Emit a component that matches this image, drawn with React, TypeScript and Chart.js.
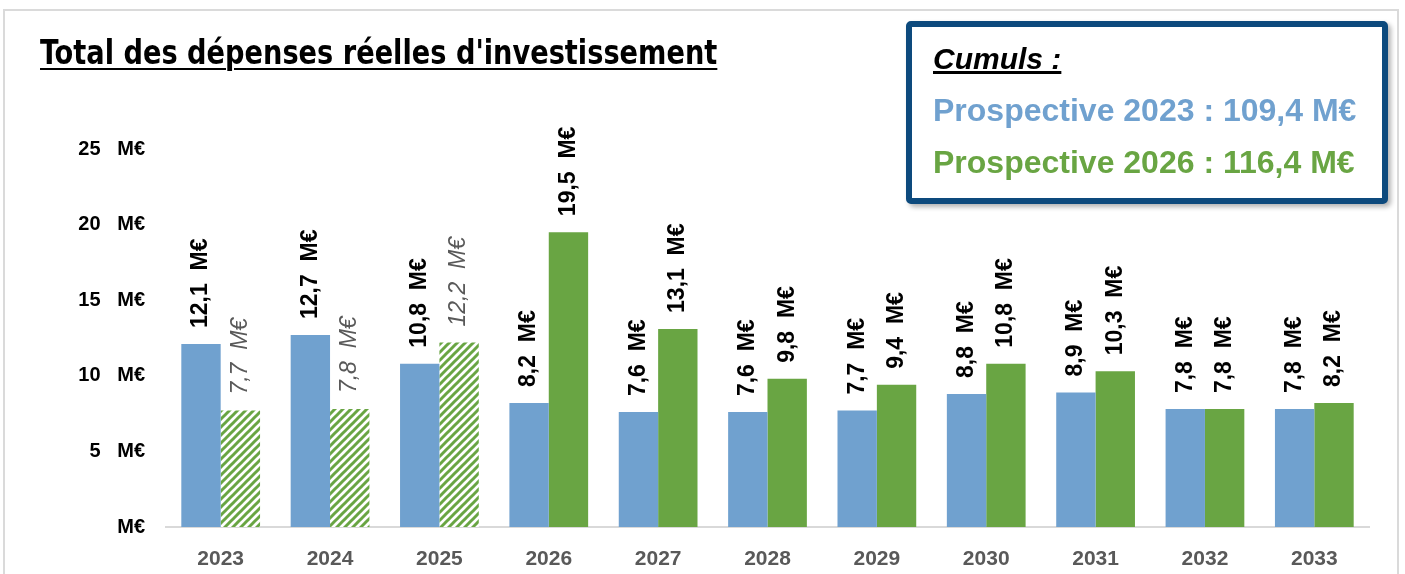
import React, { useEffect, useRef } from "react";
import { Chart, registerables } from "chart.js";

Chart.register(...registerables);

const categories = ["2023", "2024", "2025", "2026", "2027", "2028", "2029", "2030", "2031", "2032", "2033"];
const prospective2023 = [12.1, 12.7, 10.8, 8.2, 7.6, 7.6, 7.7, 8.8, 8.9, 7.8, 7.8];
const prospective2026 = [7.7, 7.8, 12.2, 19.5, 13.1, 9.8, 9.4, 10.8, 10.3, 7.8, 8.2];
const hatchedCount = 3; // first green bars are hatched (estimates)
const yTicks = [0, 5, 10, 15, 20, 25];
const titleText = "Total des dépenses réelles d'investissement";
const cumulsTitle = "Cumuls :";
const cumul2023 = "Prospective 2023 : 109,4 M€";
const cumul2026 = "Prospective 2026 : 116,4 M€";

const BLUE = "#70A1CF";
const GREEN = "#69A543";

function fmt(v: number) {
  return v.toFixed(1).replace(".", ",") + "  M€";
}

function makeHatch(): CanvasPattern | string {
  const c = document.createElement("canvas");
  c.width = 8;
  c.height = 8;
  const ctx = c.getContext("2d");
  if (!ctx) return GREEN;
  ctx.fillStyle = "#ffffff";
  ctx.fillRect(0, 0, 8, 8);
  ctx.strokeStyle = GREEN;
  ctx.lineWidth = 3;
  ctx.lineCap = "square";
  const segs = [
    [0, 8, 8, 0],
    [-4, 4, 4, -4],
    [4, 12, 12, 4],
  ];
  for (const s of segs) {
    ctx.beginPath();
    ctx.moveTo(s[0], s[1]);
    ctx.lineTo(s[2], s[3]);
    ctx.stroke();
  }
  const p = ctx.createPattern(c, "repeat");
  return p || GREEN;
}

const labelPlugin = {
  id: "rotLabels",
  afterDatasetsDraw(chart: any) {
    const ctx = chart.ctx;
    chart.data.datasets.forEach((ds: any, di: number) => {
      const meta = chart.getDatasetMeta(di);
      meta.data.forEach((bar: any, i: number) => {
        const v = ds.data[i];
        const hatched = di === 1 && i < hatchedCount;
        ctx.save();
        ctx.translate(bar.x, bar.y - 16);
        ctx.rotate(-Math.PI / 2);
        ctx.textAlign = "left";
        ctx.textBaseline = "middle";
        ctx.font = hatched
          ? "italic 23px 'Liberation Sans', Arial, sans-serif"
          : "bold 23px 'Liberation Sans', Arial, sans-serif";
        ctx.fillStyle = hatched ? "#595959" : "#000000";
        ctx.fillText(fmt(v), 0, 0);
        ctx.restore();
      });
    });
  },
};

export default function App() {
  const ref = useRef<HTMLCanvasElement | null>(null);

  useEffect(() => {
    if (!ref.current) return;
    const hatch = makeHatch();
    const greenColors = prospective2026.map((_, i) => (i < hatchedCount ? hatch : GREEN));
    const chart = new Chart(ref.current, {
      type: "bar",
      data: {
        labels: categories,
        datasets: [
          {
            label: "Prospective 2023",
            data: prospective2023,
            backgroundColor: BLUE,
            borderWidth: 0,
            categoryPercentage: 0.72,
            barPercentage: 1,
          },
          {
            label: "Prospective 2026",
            data: prospective2026,
            backgroundColor: greenColors as any,
            borderWidth: 0,
            categoryPercentage: 0.72,
            barPercentage: 1,
          },
        ],
      },
      options: {
        animation: false,
        responsive: false,
        maintainAspectRatio: false,
        layout: { padding: { top: 149, left: 0, right: 36, bottom: 0 } },
        plugins: {
          legend: { display: false },
          tooltip: { enabled: false },
          title: { display: false },
        },
        scales: {
          x: {
            grid: { display: false, drawTicks: false },
            border: { display: true, color: "#D9D9D9", width: 2 },
            ticks: {
              color: "#595959",
              font: { family: "'Liberation Sans', Arial, sans-serif", size: 21, weight: "bold" },
              padding: 20,
            },
            afterFit: (s: any) => {
              s.height = 47;
            },
          },
          y: {
            min: 0,
            max: 25,
            afterBuildTicks: (s: any) => {
              s.ticks = yTicks.map((v) => ({ value: v }));
            },
            grid: { display: false, drawTicks: false },
            border: { display: false },
            ticks: {
              color: "#000000",
              font: { family: "'Liberation Sans', Arial, sans-serif", size: 20, weight: "bold" },
              padding: 21,
              callback: (v: any) => (Number(v) === 0 ? "M€" : v + "   M€"),
            },
            afterFit: (s: any) => {
              s.width = 166;
            },
          },
        },
      },
      plugins: [labelPlugin],
    });
    return () => chart.destroy();
  }, []);

  return (
    <div
      style={{
        position: "fixed",
        left: 0,
        top: 0,
        width: 1405,
        height: 574,
        background: "#ffffff",
        overflow: "hidden",
      }}
    >
      <div
        style={{
          position: "absolute",
          left: 3,
          top: 9,
          width: 1396,
          height: 700,
          border: "2px solid #DADADA",
          boxSizing: "border-box",
        }}
      />
      <canvas ref={ref} width={1405} height={574} style={{ position: "absolute", left: 0, top: 0 }} />
      <div
        style={{
          position: "absolute",
          left: 40,
          top: 33,
          fontFamily: "'Liberation Sans Narrow', 'DejaVu Sans Condensed', 'Liberation Sans', sans-serif",
          fontWeight: "bold",
          fontSize: 34,
          lineHeight: "38px",
          color: "#000",
          textDecoration: "underline",
          textDecorationThickness: "2px",
          textUnderlineOffset: "4px",
          whiteSpace: "nowrap",
          transform: "scaleX(0.89)",
          transformOrigin: "0 0",
        }}
      >
        {titleText}
      </div>
      <div
        style={{
          position: "absolute",
          left: 906,
          top: 21,
          width: 482,
          height: 183,
          boxSizing: "border-box",
          border: "6px solid #0D4A7D",
          borderRadius: 5,
          background: "#ffffff",
          boxShadow: "3px 3px 5px rgba(0,0,0,0.3)",
          fontFamily: "'Liberation Sans', Arial, sans-serif",
          fontWeight: "bold",
        }}
      >
        <div
          style={{
            position: "absolute",
            left: 21,
            top: 12,
            fontSize: 30,
            fontStyle: "italic",
            textDecoration: "underline",
            textDecorationThickness: "3px",
            lineHeight: "40px",
            color: "#000",
            whiteSpace: "nowrap",
          }}
        >
          {cumulsTitle}
        </div>
        <div
          style={{
            position: "absolute",
            left: 21,
            top: 63,
            fontSize: 32,
            lineHeight: "40px",
            color: BLUE,
            whiteSpace: "nowrap",
          }}
        >
          {cumul2023}
        </div>
        <div
          style={{
            position: "absolute",
            left: 21,
            top: 115,
            fontSize: 32,
            lineHeight: "40px",
            color: GREEN,
            whiteSpace: "nowrap",
          }}
        >
          {cumul2026}
        </div>
      </div>
    </div>
  );
}
